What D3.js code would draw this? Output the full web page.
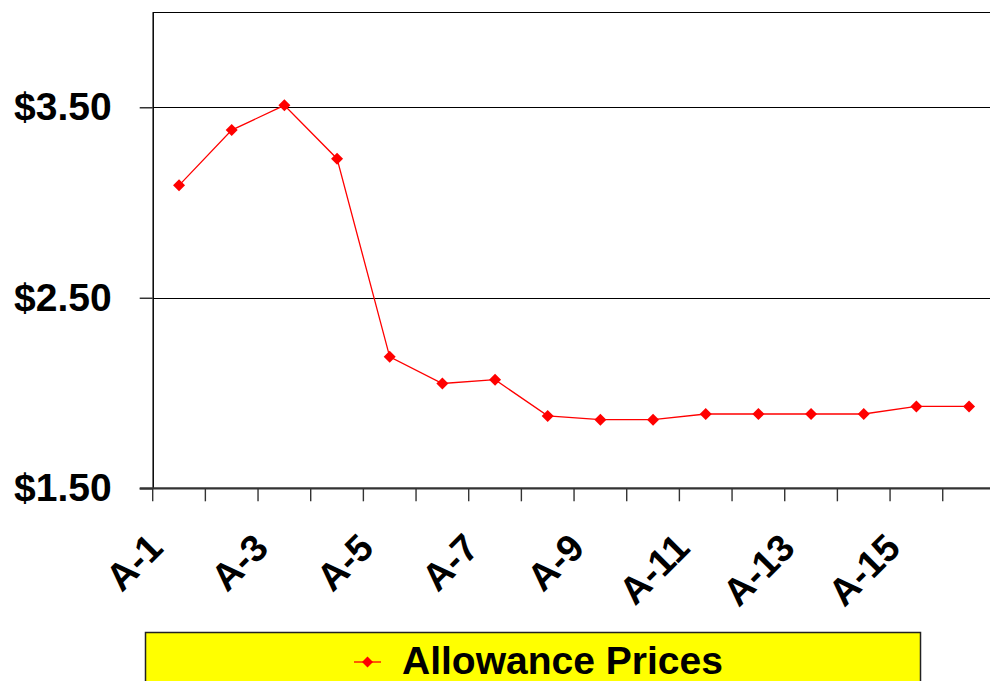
<!DOCTYPE html>
<html>
<head>
<meta charset="utf-8">
<script src="https://cdn.jsdelivr.net/npm/d3@7"></script>
<style>
  html, body { margin: 0; padding: 0; background: #fff; }
  svg { display: block; font-family: Arial, "Liberation Sans", sans-serif; }
</style>
</head>
<body>
<svg id="chart" width="990" height="681"></svg>
<script>
// Allowance price series by period
const categories = ["A-1","A-2","A-3","A-4","A-5","A-6","A-7","A-8","A-9","A-10","A-11","A-12","A-13","A-14","A-15","A-16"];
const prices = [3.09, 3.38, 3.51, 3.23, 2.19, 2.05, 2.07, 1.88, 1.86, 1.86, 1.89, 1.89, 1.89, 1.89, 1.93, 1.93];
const yTicks = [1.5, 2.5, 3.5];
const xLabelCats = ["A-1","A-3","A-5","A-7","A-9","A-11","A-13","A-15"];
const seriesName = "Allowance Prices";

const svg = d3.select("#chart");
const plot = { left: 152.7, right: 995.4, top: 12, bottom: 488.3 };

const x = d3.scaleBand().domain(categories).range([plot.left, plot.right]).paddingInner(0).paddingOuter(0);
const y = d3.scaleLinear().domain([1.5, 4.0]).range([plot.bottom, plot.top]);

// square diamond marker of half-diagonal r
const diamondPath = r => `M0,${-r}L${r},0L0,${r}L${-r},0Z`;

// horizontal gridlines and top border
const grid = svg.append("g");
grid.selectAll("line.grid")
  .data(yTicks.filter(d => d > 1.5).concat([4.0]))
  .join("line")
  .attr("x1", plot.left).attr("x2", plot.right)
  .attr("y1", d => Math.round(y(d)) + 0.5).attr("y2", d => Math.round(y(d)) + 0.5)
  .attr("stroke", "#000").attr("stroke-width", 1.2);

// y axis
const yAxis = d3.axisLeft(y).tickValues(yTicks).tickSizeInner(13).tickSizeOuter(0).tickPadding(28)
  .tickFormat(d => "$" + d3.format(".2f")(d));
const gy = svg.append("g").attr("transform", `translate(${plot.left},0)`).call(yAxis);
gy.select(".domain").attr("stroke", "#000").attr("stroke-width", 1.5);
gy.selectAll(".tick line").attr("stroke", "#333").attr("stroke-width", 1.5);
gy.selectAll(".tick text")
  .attr("font-size", 39).attr("font-weight", "bold").attr("fill", "#000")
  .attr("font-family", "Arial, 'Liberation Sans', sans-serif");

// x axis: ticks at category boundaries
const boundaries = categories.map(c => x(c)).concat([plot.right]);
const gx = svg.append("g");
gx.append("line")
  .attr("x1", plot.left - 13).attr("x2", plot.right)
  .attr("y1", plot.bottom).attr("y2", plot.bottom)
  .attr("stroke", "#333").attr("stroke-width", 2.2);
gx.selectAll("line.tick")
  .data(boundaries)
  .join("line")
  .attr("class", "tick")
  .attr("x1", d => d).attr("x2", d => d)
  .attr("y1", plot.bottom).attr("y2", plot.bottom + 13)
  .attr("stroke", "#333").attr("stroke-width", 1.4);

gx.selectAll("text.xl")
  .data(xLabelCats)
  .join("text")
  .attr("class", "xl")
  .attr("transform", d => `translate(${x(d) + x.bandwidth() / 2 - 14},550) rotate(-45)`)
  .attr("text-anchor", "end")
  .attr("font-size", 38).attr("font-weight", "bold").attr("fill", "#000")
  .text(d => d);

// price line
const line = d3.line()
  .x((d, i) => x(categories[i]) + x.bandwidth() / 2)
  .y(d => y(d));
svg.append("path")
  .datum(prices)
  .attr("d", line)
  .attr("fill", "none")
  .attr("stroke", "#ff0000")
  .attr("stroke-width", 1.3);

svg.selectAll("path.pt")
  .data(prices)
  .join("path")
  .attr("class", "pt")
  .attr("transform", (d, i) => `translate(${x(categories[i]) + x.bandwidth() / 2},${y(d)})`)
  .attr("d", diamondPath(6))
  .attr("fill", "#ff0000");

// legend
const lg = svg.append("g");
lg.append("rect")
  .attr("x", 145.5).attr("y", 632.5).attr("width", 775).attr("height", 60)
  .attr("fill", "#ffff00").attr("stroke", "#222").attr("stroke-width", 1.5);
lg.append("line")
  .attr("x1", 354).attr("x2", 381).attr("y1", 662).attr("y2", 662)
  .attr("stroke", "#ff0000").attr("stroke-width", 1.3);
lg.append("path")
  .attr("transform", "translate(367.5,662)")
  .attr("d", diamondPath(5.5))
  .attr("fill", "#ff0000");
lg.append("text")
  .attr("x", 402).attr("y", 674)
  .attr("font-size", 39).attr("font-weight", "bold").attr("fill", "#000")
  .text(seriesName);
</script>
</body>
</html>
